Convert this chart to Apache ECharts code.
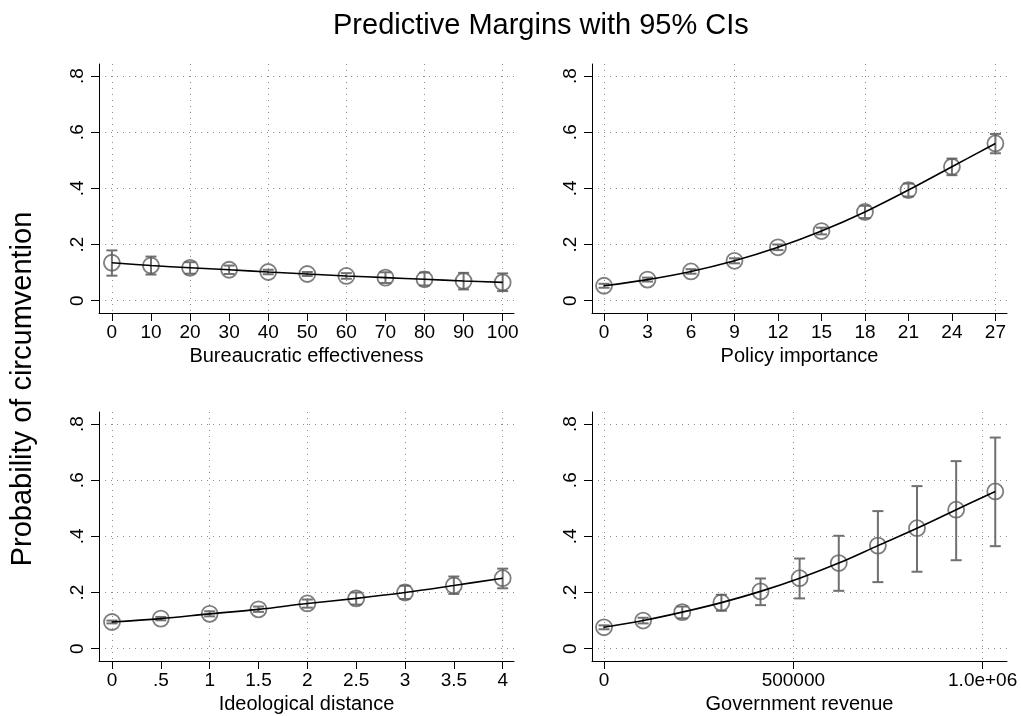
<!DOCTYPE html>
<html>
<head>
<meta charset="utf-8">
<script src="https://cdn.jsdelivr.net/npm/echarts@6/dist/echarts.min.js"></script>
<style>
html, body { margin: 0; padding: 0; background: #fff; }
#chart { width: 1021px; height: 716px; }
</style>
</head>
<body>
<div id="chart"></div>
<script>
// y axis (all panels)
var yTicks = [0, 0.2, 0.4, 0.6, 0.8];

// Bureaucratic effectiveness
var beX = [0, 10, 20, 30, 40, 50, 60, 70, 80, 90, 100];
var beY = [0.135, 0.125, 0.117, 0.110, 0.102, 0.095, 0.088, 0.082, 0.076, 0.070, 0.065];
var beLo = [0.089, 0.093, 0.096, 0.095, 0.094, 0.088, 0.078, 0.063, 0.054, 0.040, 0.034];
var beHi = [0.179, 0.157, 0.137, 0.125, 0.110, 0.102, 0.098, 0.101, 0.100, 0.099, 0.097];
var beTicks = [0, 10, 20, 30, 40, 50, 60, 70, 80, 90, 100];
var beGrid = [0, 20, 40, 60, 80, 100];

// Policy importance
var piX = [0, 3, 6, 9, 12, 15, 18, 21, 24, 27];
var piY = [0.053, 0.075, 0.104, 0.142, 0.190, 0.248, 0.316, 0.394, 0.477, 0.560];
var piLo = [0.046, 0.068, 0.096, 0.133, 0.180, 0.236, 0.294, 0.371, 0.447, 0.525];
var piHi = [0.060, 0.082, 0.112, 0.151, 0.200, 0.260, 0.338, 0.417, 0.506, 0.594];
var piTicks = [0, 3, 6, 9, 12, 15, 18, 21, 24, 27];
var piGrid = [0, 9, 18, 27];

// Ideological distance
var idX = [0, 0.5, 1, 1.5, 2, 2.5, 3, 3.5, 4];
var idY = [0.095, 0.107, 0.124, 0.140, 0.161, 0.179, 0.200, 0.225, 0.251];
var idLo = [0.090, 0.101, 0.115, 0.131, 0.146, 0.157, 0.177, 0.195, 0.215];
var idHi = [0.100, 0.113, 0.133, 0.150, 0.175, 0.200, 0.224, 0.257, 0.285];
var idTicks = [0, 0.5, 1, 1.5, 2, 2.5, 3, 3.5, 4];
var idGrid = [0, 1, 2, 3, 4];

// Government revenue
var grX = [0, 103300, 206600, 310000, 413300, 516600, 620000, 723300, 826600, 930000, 1033300];
var grY = [0.076, 0.100, 0.130, 0.164, 0.204, 0.251, 0.305, 0.367, 0.429, 0.495, 0.560];
var grLo = [0.069, 0.090, 0.108, 0.135, 0.155, 0.179, 0.206, 0.237, 0.274, 0.315, 0.365];
var grHi = [0.083, 0.110, 0.150, 0.192, 0.250, 0.321, 0.402, 0.490, 0.579, 0.668, 0.752];
var grTicks = [0, 500000, 1000000];
var grGrid = [0, 500000, 1000000];

var chart = echarts.init(document.getElementById('chart'));
var FONT = 'Liberation Sans';

var panels = [
  {name: 'Bureaucratic effectiveness', x: beX, y: beY, lo: beLo, hi: beHi, ticks: beTicks, grid: beGrid,
   min: -3.3, max: 102.9, left: 99, top: 64},
  {name: 'Policy importance', x: piX, y: piY, lo: piLo, hi: piHi, ticks: piTicks, grid: piGrid,
   min: -0.83, max: 27.8, left: 592, top: 64},
  {name: 'Ideological distance', x: idX, y: idY, lo: idLo, hi: idHi, ticks: idTicks, grid: idGrid,
   min: -0.133, max: 4.116, left: 99, top: 412},
  {name: 'Government revenue', x: grX, y: grY, lo: grLo, hi: grHi, ticks: grTicks, grid: grGrid,
   min: -31746, max: 1064300, left: 592, top: 412}
];

function fmtNum(v) {
  if (v === 0) return '0';
  if (v === 1000000) return '1.0e+06';
  return String(v).replace(/^0\./, '.');
}

function renderErr(params, api) {
  var x = api.value(0);
  var p1 = api.coord([x, api.value(2)]);
  var p2 = api.coord([x, api.value(1)]);
  var c = 5.5;
  var st = {stroke: '#707070', lineWidth: 2};
  return {
    type: 'group',
    children: [
      {type: 'line', shape: {x1: p1[0], y1: p1[1], x2: p2[0], y2: p2[1]}, style: st},
      {type: 'line', shape: {x1: p1[0] - c, y1: p1[1], x2: p1[0] + c, y2: p1[1]}, style: st},
      {type: 'line', shape: {x1: p2[0] - c, y1: p2[1], x2: p2[0] + c, y2: p2[1]}, style: st}
    ]
  };
}

var grids = [], xAxes = [], yAxes = [], series = [];
var dotted = {color: '#8c8c8c', width: 1, type: [1, 5]};

panels.forEach(function (p, i) {
  grids.push({left: p.left, top: p.top, width: 415, height: 249});
  // main x axis
  xAxes.push({
    type: 'value', gridIndex: i, min: p.min, max: p.max, position: 'bottom',
    name: p.name, nameLocation: 'middle', nameGap: 33,
    nameTextStyle: {fontFamily: FONT, fontSize: 20, color: '#000'},
    axisLine: {show: true, onZero: false, lineStyle: {color: '#000', width: 1}},
    axisTick: {show: true, length: 8, lineStyle: {color: '#000'}, customValues: p.ticks},
    axisLabel: {margin: 10, fontFamily: FONT, fontSize: 19, color: '#000',
      customValues: p.ticks, formatter: fmtNum},
    splitLine: {show: false}
  });
  // helper x axis for the vertical dotted grid lines
  xAxes.push({
    type: 'value', gridIndex: i, min: p.min, max: p.max, position: 'top',
    axisLine: {show: false, onZero: false},
    axisTick: {show: false, customValues: p.grid},
    axisLabel: {show: false, customValues: p.grid},
    splitLine: {show: true, lineStyle: dotted}
  });
  yAxes.push({
    type: 'value', gridIndex: i, min: -0.044, max: 0.843,
    axisLine: {show: true, onZero: false, lineStyle: {color: '#000', width: 1}},
    axisTick: {show: true, length: 8, lineStyle: {color: '#000'}, customValues: yTicks},
    axisLabel: {margin: 12, rotate: 90, fontFamily: FONT, fontSize: 19, color: '#000',
      customValues: yTicks, formatter: fmtNum},
    splitLine: {show: true, lineStyle: dotted}
  });
  var errData = p.x.map(function (x, k) { return [x, p.lo[k], p.hi[k]]; });
  var ptData = p.x.map(function (x, k) { return [x, p.y[k]]; });
  series.push({
    type: 'custom', xAxisIndex: i * 2, yAxisIndex: i, renderItem: renderErr,
    data: errData, encode: {x: 0, y: [1, 2]}, z: 2, silent: true
  });
  series.push({
    type: 'scatter', xAxisIndex: i * 2, yAxisIndex: i, data: ptData,
    symbol: 'circle', symbolSize: 16, z: 3, silent: true,
    itemStyle: {color: 'rgba(0,0,0,0)', borderColor: '#5e5e5e', borderWidth: 1.8}
  });
  series.push({
    type: 'line', xAxisIndex: i * 2, yAxisIndex: i, data: ptData, smooth: 0.35,
    showSymbol: false, z: 4, silent: true,
    lineStyle: {color: '#000', width: 1.6}
  });
});

chart.setOption({
  animation: false,
  backgroundColor: '#fff',
  title: {
    text: 'Predictive Margins with 95% CIs', left: 328, top: 6,
    textStyle: {fontFamily: FONT, fontSize: 29, fontWeight: 'normal', color: '#000'}
  },
  graphic: [{
    type: 'text', x: 23, y: 389, rotation: Math.PI / 2,
    style: {text: 'Probability of circumvention', fontFamily: FONT, fontSize: 29,
      fill: '#000', align: 'center', verticalAlign: 'middle'}
  }],
  grid: grids,
  xAxis: xAxes,
  yAxis: yAxes,
  series: series
});
</script>
</body>
</html>
